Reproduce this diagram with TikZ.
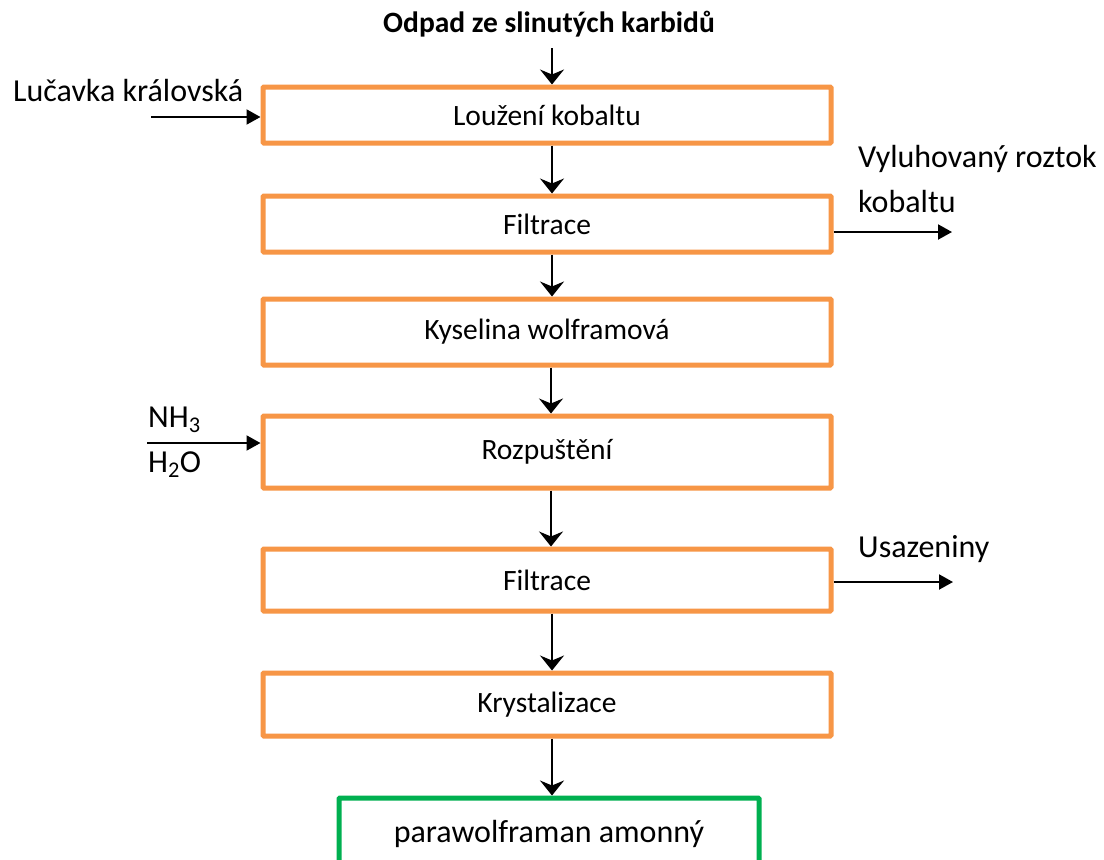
\documentclass[tikz,border=0pt]{standalone}
\usepackage{fontspec}
\setmainfont{Carlito}
\usetikzlibrary{arrows.meta}
\definecolor{boxorange}{HTML}{F79646}
\definecolor{boxgreen}{HTML}{00B050}
\begin{document}
\begin{tikzpicture}[x=1pt,y=-1pt,
  proc/.style={draw=boxorange, line width=5pt, rounded corners=1pt, minimum width=568pt, inner sep=0pt, font=\fontsize{29.5}{33}\selectfont},
  result/.style={draw=boxgreen, line width=5pt, rounded corners=1pt, minimum width=420pt, minimum height=72pt, inner sep=0pt, font=\fontsize{32}{36}\selectfont},
  side/.style={inner sep=0pt, anchor=base west, font=\fontsize{32}{36}\selectfont},
  varrow/.style={line width=2pt, -{Stealth[length=15pt, width=24pt, inset=5pt]}},
  harrow/.style={line width=2pt, -{Triangle[length=14pt, width=15pt]}}]
\clip (0,0) rectangle (1104,860);
\fill[white] (0,0) rectangle (1104,860);

\node[inner sep=0pt, anchor=base, font=\fontsize{29.5}{33}\selectfont\bfseries] (title) at (549,32) {Odpad ze slinutých karbidů};

\node[proc, minimum height=56pt] (b1) at (547,115) {Loužení kobaltu};
\node[proc, minimum height=56pt] (b2) at (547,224) {Filtrace};
\node[proc, minimum height=66pt] (b3) at (547,332) {Kyselina wolframová};
\node[proc, minimum height=72pt] (b4) at (547,452) {Rozpuštění};
\node[proc, minimum height=62pt] (b5) at (547,580) {Filtrace};
\node[proc, minimum height=63pt] (b6) at (547,704.5) {Krystalizace};
\node[result] (b7) at (549,834) {parawolframan amonný};

% vertical flow
\coordinate (top) at (552,48);
\draw[varrow] (top) -- (top |- b1.north);
\draw[varrow] ([xshift=5pt]b1.south) -- ([xshift=5pt]b2.north);
\draw[varrow] ([xshift=5pt]b2.south) -- ([xshift=5pt]b3.north);
\draw[varrow] ([xshift=4pt]b3.south) -- ([xshift=4pt]b4.north);
\draw[varrow] ([xshift=4pt]b4.south) -- ([xshift=4pt]b5.north);
\draw[varrow] ([xshift=5pt]b5.south) -- ([xshift=5pt]b6.north);
\draw[varrow] ([xshift=5pt]b6.south) -- ([xshift=3pt]b7.north);

% side inputs / outputs
\node[side] (luc) at (13,101) {Lučavka královská};
\coordinate (inA) at (151,117);
\draw[harrow] (inA) -- (inA -| b1.west);

\node[side] (vyl1) at (858,167) {Vyluhovaný roztok};
\node[side] (vyl2) at (858,212) {kobaltu};
\coordinate (outA) at (952,232);
\draw[harrow] (outA -| b2.east) -- (outA);

\node[side] (nh3) at (148,427) {NH\textsubscript{3}};
\node[side] (h2o) at (148,472) {H\textsubscript{2}O};
\coordinate (inB) at (147,443);
\draw[harrow] (inB) -- (inB -| b4.west);

\node[side] (usa) at (858,557) {Usazeniny};
\coordinate (outB) at (953,582);
\draw[harrow] (outB -| b5.east) -- (outB);
\end{tikzpicture}
\end{document}
